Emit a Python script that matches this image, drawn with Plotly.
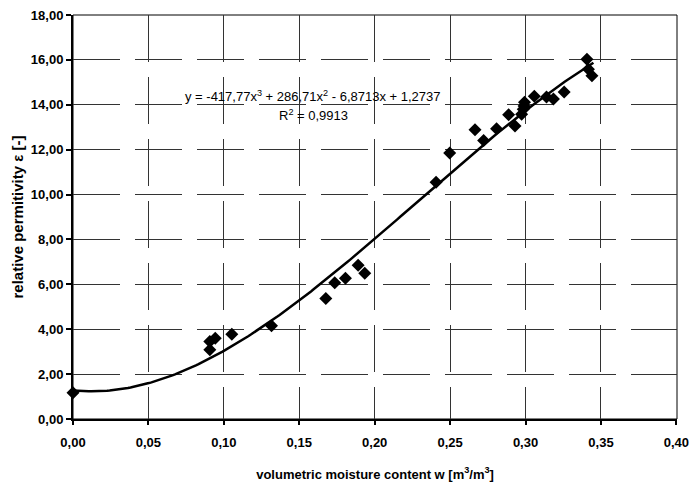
import numpy as np
import plotly.graph_objects as go

# measured points
moisture = [0.000, 0.0907, 0.0907, 0.0943, 0.1053, 0.1316, 0.1676, 0.1735, 0.1806, 0.1890, 0.1934,
            0.2407, 0.2497, 0.2665, 0.2722, 0.2808, 0.2888, 0.2930, 0.2974, 0.2985, 0.2990, 0.2993,
            0.3058, 0.3139, 0.3185, 0.3256, 0.3407, 0.3417, 0.3440]
permittivity = [1.17, 3.08, 3.45, 3.60, 3.78, 4.16, 5.37, 6.07, 6.27, 6.85, 6.49,
                10.55, 11.85, 12.89, 12.41, 12.93, 13.56, 13.05, 13.58, 13.80, 13.95, 14.11,
                14.38, 14.35, 14.26, 14.57, 16.03, 15.58, 15.29]

# trend line coefficients as printed on the chart (x^3, x^2, x, 1)
trend_coeffs = [-417.77, 286.71, -6.8713, 1.2737]
trend_x_range = [0.0, 0.345]
equation_text = "y = -417,77x<sup>3</sup> + 286,71x<sup>2</sup> - 6,8713x + 1,2737"
r2_text = "R<sup>2</sup> = 0,9913"

x_ticks = [0.00, 0.05, 0.10, 0.15, 0.20, 0.25, 0.30, 0.35, 0.40]
y_ticks = [0, 2, 4, 6, 8, 10, 12, 14, 16, 18]

FONT = "Liberation Sans, Arial, sans-serif"

tx = np.linspace(trend_x_range[0], trend_x_range[1], 200)
ty = np.polyval(trend_coeffs, tx)

fig = go.Figure()
fig.add_trace(go.Scatter(x=tx, y=ty, mode="lines",
                         line=dict(color="black", width=2.5), hoverinfo="skip"))
fig.add_trace(go.Scatter(x=moisture, y=permittivity, mode="markers",
                         marker=dict(symbol="diamond", size=10, color="black"),
                         cliponaxis=False))

fig.add_annotation(x=0.5, y=1, xref="paper", yref="paper", showarrow=False,
                   text=equation_text, font=dict(family=FONT, size=13, color="black"),
                   xanchor="center", yanchor="middle", xshift=-62, yshift=-81)
fig.add_annotation(x=0.5, y=1, xref="paper", yref="paper", showarrow=False,
                   text=r2_text, font=dict(family=FONT, size=13, color="black"),
                   xanchor="center", yanchor="middle", xshift=-62, yshift=-100)

fig.add_shape(type="rect", xref="paper", yref="paper", x0=0, y0=0, x1=1, y1=1,
              line=dict(color="black", width=1), layer="below")

fig.update_layout(
    width=690, height=489,
    margin=dict(l=73, r=13, t=15, b=70),
    plot_bgcolor="white", paper_bgcolor="white",
    showlegend=False,
    separators=", ",
    font=dict(family=FONT, color="black"),
    xaxis=dict(range=[0, 0.4004], tickvals=x_ticks, tickformat=".2f",
               automargin=False, ticklabeloverflow="allow",
               showgrid=True, gridcolor="#333333", gridwidth=1, griddash="47px,15px",
               showline=True, linecolor="black", linewidth=2,
               ticks="outside", ticklen=4, tickcolor="black", tickwidth=2,
               ticklabelstandoff=6,
               tickfont=dict(family=FONT, size=13, color="black", weight="bold"),
               zeroline=False,
               title=dict(text="volumetric moisture content w [m<sup>3</sup>/m<sup>3</sup>]",
                          font=dict(family=FONT, size=13, color="black", weight="bold"),
                          standoff=21)),
    yaxis=dict(range=[0, 18], tickvals=y_ticks, tickformat=".2f",
               automargin=False, ticklabeloverflow="allow",
               showgrid=True, gridcolor="#333333", gridwidth=1, griddash="47px,15px",
               showline=True, linecolor="black", linewidth=2,
               ticks="outside", ticklen=5, tickcolor="black", tickwidth=2,
               tickfont=dict(family=FONT, size=13, color="black", weight="bold"),
               zeroline=False,
               title=dict(text="relative permitivity ε [-]",
                          font=dict(family=FONT, size=15, color="black", weight="bold"),
                          standoff=4)),
)

fig.write_html("out.html",
               config={"displayModeBar": False},
               post_script="document.body.style.margin='0';document.body.style.overflow='hidden';")
